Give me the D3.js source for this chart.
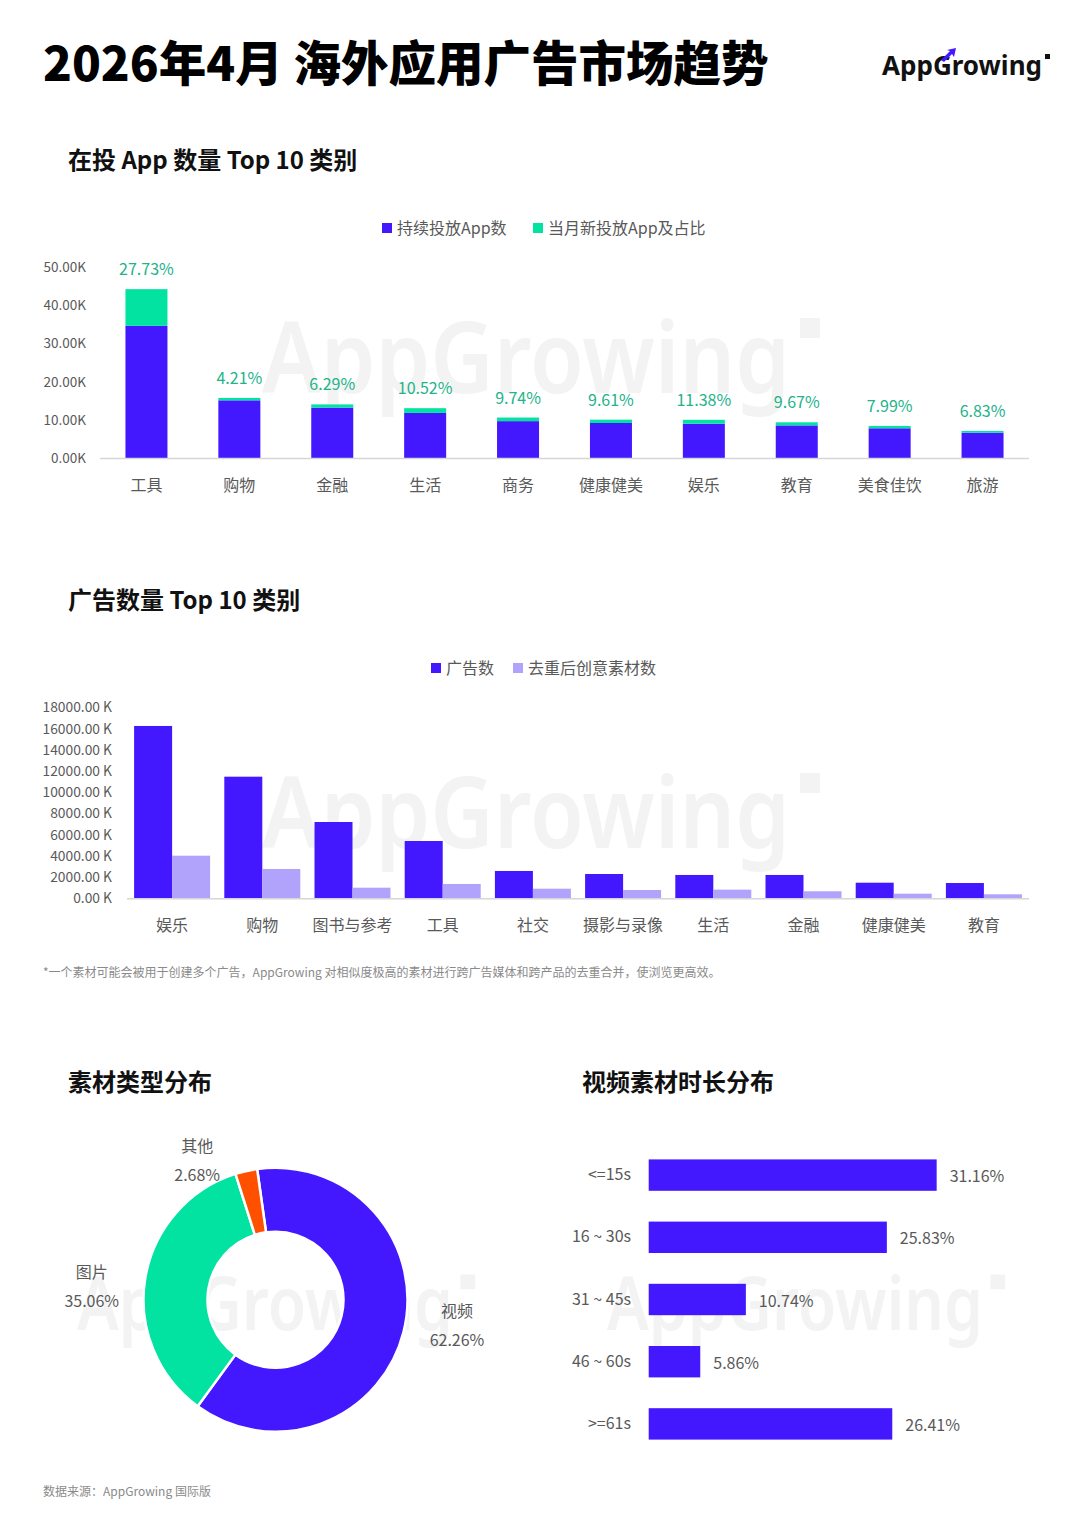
<!DOCTYPE html>
<html><head><meta charset="utf-8">
<script src="https://cdn.jsdelivr.net/npm/d3@7"></script>
<style>
body{margin:0;background:#fff;}
svg text{font-family:"Noto Sans CJK SC","Noto Sans",sans-serif;}
</style></head><body>
<svg id="c" width="1080" height="1534"></svg>
<script>
// ---------- DATA ----------
const appCategories = ['工具','购物','金融','生活','商务','健康健美','娱乐','教育','美食佳饮','旅游'];
const appContinuing = [34.6, 15.1, 13.2, 11.8, 9.65, 9.16, 8.98, 8.53, 7.78, 6.62]; // K
const appNew        = [9.6, 0.63, 0.83, 1.24, 0.94, 0.88, 1.02, 0.82, 0.62, 0.45];   // K
const appNewPct     = ['27.73%','4.21%','6.29%','10.52%','9.74%','9.61%','11.38%','9.67%','7.99%','6.83%'];
const appTicks      = [0, 10, 20, 30, 40, 50];
const appLegend     = ['持续投放App数','当月新投放App及占比'];

const adCategories  = ['娱乐','购物','图书与参考','工具','社交','摄影与录像','生活','金融','健康健美','教育'];
const adCounts      = [16240, 11460, 7190, 5400, 2575, 2290, 2200, 2200, 1470, 1440]; // K
const adCreatives   = [4015, 2760, 1000, 1350, 905, 780, 815, 660, 435, 375];         // K
const adTicks       = [0,2000,4000,6000,8000,10000,12000,14000,16000,18000];
const adLegend      = ['广告数','去重后创意素材数'];

const typeNames     = ['视频','图片','其他'];
const typeShares    = [62.26, 35.06, 2.68];

const durations     = ['<=15s','16 ~ 30s','31 ~ 45s','46 ~ 60s','>=61s'];
const durationShare = [31.16, 25.83, 10.74, 5.86, 26.41];

// ---------- STYLE ----------
const BLUE='#4318FF', GREEN='#02E3A2', LIGHT='#B1A2FB', ORANGE='#FF5000',
      PCT_GREEN='#22B38A', GREY='#595959', AXIS='#d6d6d6', FS=16;

const svg = d3.select('#c');

// watermark
function watermark(x, baseline, width, size){
  const g = svg.append('g').attr('class','wm');
  g.append('text').attr('x',x).attr('y',baseline)
    .attr('font-size',size).attr('font-weight',600)
    .attr('fill','#f3f3f3').attr('textLength',width).attr('lengthAdjust','spacingAndGlyphs')
    .style('font-family','"Noto Sans","Open Sans",sans-serif')
    .text('AppGrowing');
  const s = size*0.2;
  g.append('rect').attr('x',x+width+size*0.1).attr('y',baseline-size*0.75)
    .attr('width',s).attr('height',s).attr('fill','#f3f3f3');
}
watermark(262, 393, 528, 100);
watermark(262, 848, 528, 100);
watermark(77, 1330, 376, 74);
watermark(607, 1330, 376, 74);

// title
svg.append('text').attr('x',43).attr('y',81).attr('font-size',47.5).attr('font-weight',900)
  .attr('fill','#000').text('2026年4月 海外应用广告市场趋势');

// logo
const logo = svg.append('g');
logo.append('text').attr('x',882).attr('y',75).attr('font-size',26).attr('font-weight',700)
  .attr('fill','#111').attr('textLength',160).attr('lengthAdjust','spacingAndGlyphs')
  .style('font-family','"Noto Sans",sans-serif').text('AppGrowing');
logo.append('path').attr('d','M941,60 L950,51 L947,50 L956,48 L954,57 L952,54 L944,62 Z').attr('fill',BLUE);
logo.append('rect').attr('x',1045).attr('y',54).attr('width',5).attr('height',5).attr('fill','#111');

// section titles
function sectionTitle(x,y,t){
  svg.append('text').attr('x',x).attr('y',y).attr('font-size',24).attr('font-weight',700)
    .attr('fill','#111').text(t);
}
sectionTitle(68,169,'在投 App 数量 Top 10 类别');
sectionTitle(68,609,'广告数量 Top 10 类别');
sectionTitle(68,1091,'素材类型分布');
sectionTitle(582,1091,'视频素材时长分布');

function legend(items, colors, xs, y){
  items.forEach((t,i)=>{
    svg.append('rect').attr('x',xs[i]).attr('y',y-5).attr('width',10).attr('height',10).attr('fill',colors[i]);
    svg.append('text').attr('x',xs[i]+15).attr('y',y+6).attr('font-size',FS).attr('fill',GREY).text(t);
  });
}

// ---------- CHART 1 ----------
{
  legend(appLegend,[BLUE,GREEN],[382,533],228);
  const x = d3.scaleBand().domain(appCategories).range([100,1029]);
  const y = d3.scaleLinear().domain([0,50]).range([458,267]);
  const bw = 42;
  const g = svg.append('g');
  g.selectAll('.yt').data(appTicks).join('text')
    .attr('x',86).attr('y',d=>y(d)+5).attr('text-anchor','end')
    .attr('font-size',13.5).attr('fill',GREY).text(d=>d3.format('.2f')(d)+'K');
  appCategories.forEach((c,i)=>{
    const cx = x(c)+x.bandwidth()/2;
    g.append('rect').attr('x',cx-bw/2).attr('y',y(appContinuing[i]))
      .attr('width',bw).attr('height',y(0)-y(appContinuing[i])).attr('fill',BLUE);
    const top = y(appContinuing[i]+appNew[i]);
    g.append('rect').attr('x',cx-bw/2).attr('y',top)
      .attr('width',bw).attr('height',y(appContinuing[i])-top).attr('fill',GREEN);
    g.append('text').attr('x',cx).attr('y',top-14).attr('text-anchor','middle')
      .attr('font-size',FS).attr('fill',PCT_GREEN).text(appNewPct[i]);
    g.append('text').attr('x',cx).attr('y',491).attr('text-anchor','middle')
      .attr('font-size',FS).attr('fill',GREY).text(c);
  });
  g.append('line').attr('x1',100).attr('x2',1029).attr('y1',458.5).attr('y2',458.5)
    .attr('stroke',AXIS).attr('stroke-width',1.5);
}

// ---------- CHART 2 ----------
{
  legend(adLegend,[BLUE,LIGHT],[431,513],668);
  const x = d3.scaleBand().domain(adCategories).range([127,1029]);
  const y = d3.scaleLinear().domain([0,18000]).range([898.3,707.3]);
  const bw = 38;
  const g = svg.append('g');
  g.selectAll('.yt').data(adTicks).join('text')
    .attr('x',112).attr('y',d=>y(d)+5).attr('text-anchor','end')
    .attr('font-size',13.8).attr('fill',GREY).text(d=>d3.format('.2f')(d)+' K');
  adCategories.forEach((c,i)=>{
    const cx = x(c)+x.bandwidth()/2;
    g.append('rect').attr('x',cx-bw).attr('y',y(adCounts[i]))
      .attr('width',bw).attr('height',y(0)-y(adCounts[i])).attr('fill',BLUE);
    g.append('rect').attr('x',cx).attr('y',y(adCreatives[i]))
      .attr('width',bw).attr('height',y(0)-y(adCreatives[i])).attr('fill',LIGHT);
    g.append('text').attr('x',cx).attr('y',931).attr('text-anchor','middle')
      .attr('font-size',FS).attr('fill',GREY).text(c);
  });
  g.append('line').attr('x1',127).attr('x2',1029).attr('y1',898.8).attr('y2',898.8)
    .attr('stroke',AXIS).attr('stroke-width',1.5);
  svg.append('text').attr('x',43).attr('y',977).attr('font-size',12).attr('fill','#8a8a8a')
    .text('*一个素材可能会被用于创建多个广告，AppGrowing 对相似度极高的素材进行跨广告媒体和跨产品的去重合并，使浏览更高效。');
}

// ---------- DONUT ----------
{
  const cx=275.5, cy=1299.7, R=132, r=68;
  const start = -8*Math.PI/180;
  const pie = d3.pie().sort(null).startAngle(start).endAngle(start+2*Math.PI);
  const arcs = pie(typeShares);
  const arc = d3.arc().innerRadius(r).outerRadius(R);
  const colors=[BLUE,GREEN,ORANGE];
  const g = svg.append('g').attr('transform',`translate(${cx},${cy})`);
  g.selectAll('path').data(arcs).join('path').attr('d',arc)
    .attr('fill',(d,i)=>colors[i]).attr('stroke','#fff').attr('stroke-width',2.5);
  const rot = -4*Math.PI/180;
  arcs.forEach((a,i)=>{
    const ang=(a.startAngle+a.endAngle)/2;
    const right = Math.sin(ang)>0;
    const px = R*Math.sin(ang) + (right?26:-26);
    const py = -(R+13)*Math.cos(ang+rot);
    const t = g.append('text').attr('text-anchor','middle').attr('font-size',FS).attr('fill',GREY);
    t.append('tspan').attr('x',0).attr('y',py-8.5).text(typeNames[i]);
    t.append('tspan').attr('x',0).attr('y',py+20.5).text(d3.format('.2f')(typeShares[i])+'%');
    const w = t.node().getBBox().width;
    const lx = right ? px+w/2 : px-w/2;
    t.selectAll('tspan').attr('x',lx);
  });
}

// ---------- H BAR ----------
{
  const y = d3.scaleBand().domain(durations).range([1144,1455]);
  const x = d3.scaleLinear().domain([0,40]).range([645.5,645.5+40*9.344]);
  const bh = 31.4;
  const g = svg.append('g');
  durations.forEach((d,i)=>{
    const cy = y(d)+y.bandwidth()/2;
    g.append('rect').attr('x',648.7).attr('y',cy-bh/2)
      .attr('width',x(durationShare[i])-648.7).attr('height',bh).attr('fill',BLUE);
    g.append('text').attr('x',631).attr('y',cy+5).attr('text-anchor','end')
      .attr('font-size',FS).attr('fill',GREY).text(d);
    g.append('text').attr('x',x(durationShare[i])+13).attr('y',cy+7).attr('font-size',FS)
      .attr('fill',GREY).text(d3.format('.2f')(durationShare[i])+'%');
  });
}

svg.append('text').attr('x',43).attr('y',1496).attr('font-size',12).attr('fill','#8a8a8a')
  .text('数据来源：AppGrowing 国际版');
</script>
</body></html>
